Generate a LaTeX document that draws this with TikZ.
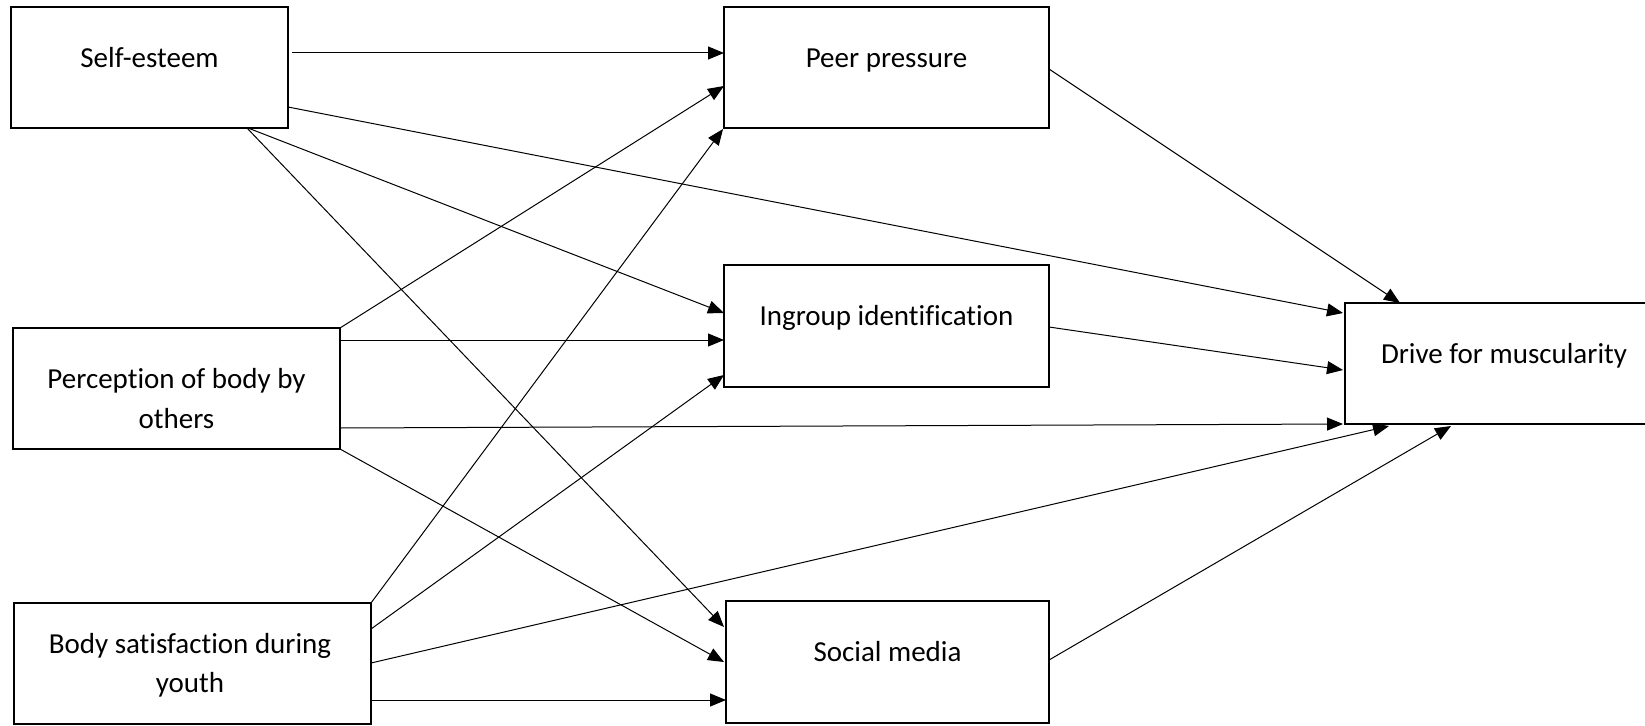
\documentclass[tikz,border=0pt]{standalone}
\usepackage{fontspec}
\setmainfont{Carlito}[Ligatures=NoCommon]
\usetikzlibrary{arrows.meta,calc}
\begin{document}
\begin{tikzpicture}[x=1pt,y=-1pt,
  box/.style={draw, line width=1.5pt, inner sep=0pt, outer sep=0pt},
  lbl/.style={anchor=base, inner sep=0pt, align=center, font=\fontsize{29}{40}\selectfont},
  conn/.style={-{Triangle[length=16pt,width=13pt]}, line width=1pt}]
\clip (0,0) rectangle (1645,725);
\useasboundingbox (0,0) rectangle (1645,725);
% boxes
\node[box, minimum width=277pt, minimum height=121pt] (se)   at (149.5,67.5) {};
\node[box, minimum width=325pt, minimum height=121pt] (peer) at (886.5,67.5) {};
\node[box, minimum width=327pt, minimum height=121pt] (per)  at (176.5,388.5) {};
\node[box, minimum width=325pt, minimum height=122pt] (ing)  at (886.5,326) {};
\node[box, minimum width=357pt, minimum height=121pt] (body) at (192.5,663.5) {};
\node[box, minimum width=323pt, minimum height=122pt] (sm)   at (887.5,662) {};
\node[box, minimum width=318pt, minimum height=121pt] (dr)   at (1504,363.5) {};
% labels
\node[lbl] (tse)   at (149.5,67) {Self-esteem};
\node[lbl] (tpeer) at (886.5,67) {Peer pressure};
\node[lbl] (ting)  at (886.5,325) {Ingroup identification};
\node[lbl] (tdr)   at (1504,363) {Drive for muscularity};
\node[lbl] (tsm)   at (887.5,661) {Social media};
\node[lbl] (tper)  at (176.5,428) {Perception of body by\\others};
\node[lbl, font=\fontsize{29}{39}\selectfont] (tbody) at (190,692) {Body satisfaction during\\youth};
% connectors
\draw[conn] ($(se.north east)+(4,46)$) -- ($(peer.north west)+(0,46)$);
\draw[conn] ($(se.north east)+(0,100)$) -- ($(dr.north west)+(-2,10)$);
\draw[conn] ($(se.south west)+(237,0)$) -- ($(ing.north west)+(0,48)$);
\draw[conn] ($(se.south west)+(236,0)$) -- ($(sm.north west)+(-2,26)$);
\draw[conn] (per.north east) -- ($(peer.north west)+(0,79)$);
\draw[conn] ($(per.north east)+(0,12)$) -- ($(ing.north west)+(0,75)$);
\draw[conn] ($(per.north east)+(0,100)$) -- ($(dr.south west)+(-2,0)$);
\draw[conn] (per.south east) -- ($(sm.north west)+(-2,61)$);
\draw[conn] (body.north east) -- ($(peer.south west)+(-1,1)$);
\draw[conn] ($(body.north east)+(0,26)$) -- ($(ing.north west)+(0,110)$);
\draw[conn] ($(body.north east)+(0,60)$) -- ($(dr.south west)+(44,2)$);
\draw[conn] ($(body.north east)+(0,97)$) -- ($(sm.north west)+(0,99)$);
\draw[conn] ($(peer.north east)+(0,62)$) -- ($(dr.north west)+(55,0)$);
\draw[conn] ($(ing.north east)+(0,62)$) -- ($(dr.north west)+(-2,67)$);
\draw[conn] ($(sm.north east)+(0,59)$) -- ($(dr.south west)+(106,2)$);
\end{tikzpicture}
\end{document}
